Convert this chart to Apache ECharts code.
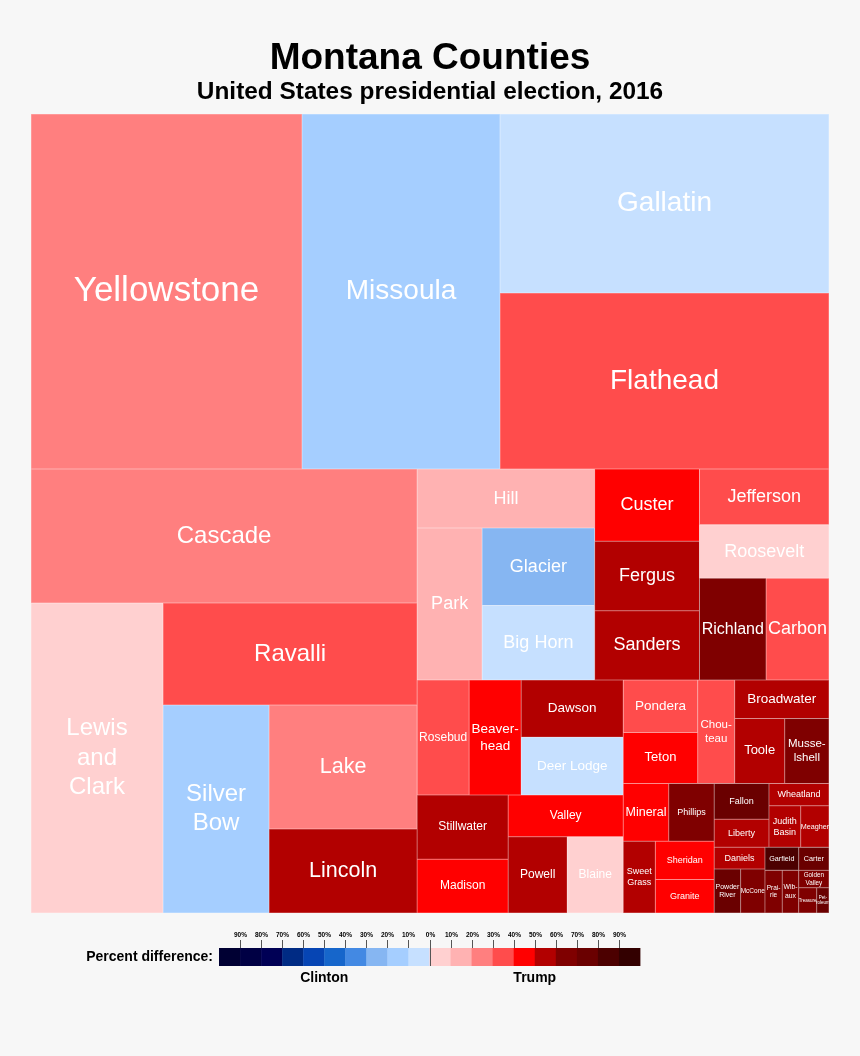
<!DOCTYPE html>
<html>
<head>
<meta charset="utf-8">
<script src="https://cdn.jsdelivr.net/npm/echarts/dist/echarts.min.js"></script>
<style>
html,body{margin:0;padding:0;background:#f7f7f7;}
#chart{width:860px;height:1056px;}
</style>
</head>
<body>
<div id="chart"></div>
<script>
// ---- Data ----
const counties = ['Yellowstone','Missoula','Gallatin','Flathead','Cascade','Lewis and Clark','Ravalli','Silver Bow','Lake','Lincoln',
  'Hill','Park','Glacier','Big Horn','Custer','Fergus','Sanders','Jefferson','Roosevelt','Richland','Carbon',
  'Rosebud','Beaverhead','Dawson','Deer Lodge','Stillwater','Madison','Valley','Powell','Blaine',
  'Pondera','Teton','Chouteau','Broadwater','Toole','Musselshell','Mineral','Phillips','Sweet Grass','Sheridan','Granite',
  'Fallon','Liberty','Wheatland','Judith Basin','Meagher','Daniels','Powder River','McCone','Garfield','Carter',
  'Prairie','Wibaux','Golden Valley','Treasure','Petroleum'];
// total votes
const votes = [75040,54826,45935,45165,40345,31918,20208,17197,14315,9697,
  8169,7706,6801,6537,5897,5684,5676,5635,5392,5291,4997,
  4664,4664,4559,4590,4564,3812,3741,3512,3333,
  3035,2959,2981,2817,2535,2246,2050,2050,1797,1753,1543,
  1536,1195,1048,1029,918,858,906,834,605,544,
  576,546,411,355,243];
// percent difference (Trump minus Clinton), estimated from colour bins
const margins = [25,-15,-5,35,22,5,38,-15,22,55,
  15,12,-25,-5,45,55,52,33,3,63,35,
  32,44,55,-6,52,45,42,52,2,
  36,45,31,57,54,65,43,64,56,41,44,
  72,53,54,57,55,56,71,66,84,76,
  62,67,64,61,73];
// colour bins 0-10%, 10-20%, ... 90%+
const clintonColors = ['#C6E0FF','#A5CEFF','#86B6F2','#4389E3','#1666CB','#0645B4','#002B84','#000055','#000044','#000033'];
const trumpColors = ['#FFD0D0','#FFB2B2','#FF7F7F','#FF4C4C','#FF0000','#B20000','#7F0000','#6A0000','#4C0000','#330000'];
const legendTicks = ['90%','80%','70%','60%','50%','40%','30%','20%','10%','0%','10%','20%','30%','40%','50%','60%','70%','80%','90%'];

// hierarchy of the binary partition seen in the picture (names only)
const groupTree = [
  [['Yellowstone','Missoula'],['Gallatin','Flathead']],
  [
    ['Cascade',['Lewis and Clark',['Ravalli',['Silver Bow',['Lake','Lincoln']]]]],
    [
      [['Hill',['Park',['Glacier','Big Horn']]],[['Custer',['Fergus','Sanders']],['Jefferson',['Roosevelt',['Richland','Carbon']]]]],
      [
        [['Rosebud',['Beaverhead',['Dawson','Deer Lodge']]],[['Stillwater','Madison'],['Valley',['Powell','Blaine']]]],
        [
          [[['Pondera','Teton'],'Chouteau'],['Broadwater',['Toole','Musselshell']]],
          [
            [['Mineral','Phillips'],['Sweet Grass',['Sheridan','Granite']]],
            [
              [['Fallon','Liberty'],['Wheatland',['Judith Basin','Meagher']]],
              [['Daniels',['Powder River','McCone']],[['Garfield','Carter'],['Prairie',['Wibaux',['Golden Valley',['Treasure','Petroleum']]]]]]
            ]
          ]
        ]
      ]
    ]
  ]
];

// ---- Label styling (kept apart from data) ----
const labelText = {'Lewis and Clark':'Lewis\nand\nClark','Silver Bow':'Silver\nBow','Beaverhead':'Beaver-\nhead',
  'Chouteau':'Chou-\nteau','Musselshell':'Musse-\nlshell','Sweet Grass':'Sweet\nGrass','Judith Basin':'Judith\nBasin',
  'Powder River':'Powder\nRiver','Prairie':'Prai-\nrie','Wibaux':'Wib-\naux','Golden Valley':'Golden\nValley','Petroleum':'Pet-\nroleum'};
const labelSize = {'Yellowstone':35,'Missoula':28,'Gallatin':28,'Flathead':28,'Cascade':24,'Lewis and Clark':24,'Ravalli':24,
  'Silver Bow':24,'Lake':21.5,'Lincoln':21.5,'Hill':18,'Park':18,'Glacier':18,'Big Horn':18,'Custer':18,'Fergus':18,'Sanders':18,
  'Jefferson':18,'Roosevelt':18,'Richland':16,'Carbon':18,'Rosebud':12,'Beaverhead':13.5,'Dawson':13.5,'Deer Lodge':13.5,
  'Stillwater':12,'Madison':12,'Valley':12,'Powell':12,'Blaine':12,'Pondera':13.5,'Teton':13,'Chouteau':11.5,'Broadwater':13.5,
  'Toole':13,'Musselshell':11.5,'Mineral':12.5,'Phillips':9,'Sweet Grass':9,'Sheridan':9,'Granite':9,'Fallon':9,'Liberty':9,
  'Wheatland':9,'Judith Basin':9,'Meagher':7.2,'Daniels':9,'Powder River':7,'McCone':6.5,'Garfield':7.2,'Carter':7.2,
  'Prairie':6.5,'Wibaux':6.8,'Golden Valley':6.3,'Treasure':4.5,'Petroleum':4.5};

const FONT = '"Liberation Sans", Arial, sans-serif';
const idx = {};
counties.forEach((c, i) => { idx[c] = i; });

function colorFor(m) {
  const b = Math.min(9, Math.floor(Math.abs(m) / 10));
  return m >= 0 ? trumpColors[b] : clintonColors[b];
}
function lighten(hex, t) {
  const n = parseInt(hex.slice(1), 16);
  const r = (n >> 16) & 255, g = (n >> 8) & 255, b = n & 255;
  const f = v => Math.round(v + (255 - v) * t);
  return 'rgb(' + f(r) + ',' + f(g) + ',' + f(b) + ')';
}
let gid = 0;
function build(node) {
  if (typeof node === 'string') {
    const i = idx[node];
    const col = colorFor(margins[i]);
    const fs = labelSize[node] || 12;
    return {
      name: node,
      value: votes[i],
      itemStyle: { color: col, borderColor: lighten(col, 0.4), borderWidth: 0.5 },
      label: { formatter: labelText[node] || node, fontSize: fs, lineHeight: fs * 1.22 }
    };
  }
  gid++;
  return { name: 'group' + gid, children: node.map(build) };
}
const treeData = groupTree.map(build);

// ---- Legend graphics ----
const LX = 219, LW = 421, LY = 948, LH = 18;
const cellW = LW / 20;
const legendColors = clintonColors.slice().reverse().concat(trumpColors);
const graphics = [];
legendColors.forEach((c, i) => {
  graphics.push({ type: 'rect', shape: { x: LX + i * cellW, y: LY, width: cellW + 0.4, height: LH }, style: { fill: c } });
});
legendTicks.forEach((t, k) => {
  const x = Math.round(LX + (k + 1) * cellW) + 0.5;
  const isZero = k === 9;
  graphics.push({ type: 'line', shape: { x1: x, y1: 940, x2: x, y2: isZero ? LY + LH : LY }, style: { stroke: '#555', lineWidth: 1 } });
  graphics.push({ type: 'text', x: x, y: 935.5, style: { text: t, font: 'bold 6.5px ' + FONT, fill: '#000',
    align: 'center', verticalAlign: 'middle', textAlign: 'center', textVerticalAlign: 'middle' } });
});
graphics.push({ type: 'text', x: 213, y: 957, style: { text: 'Percent difference:', font: 'bold 14px ' + FONT, fill: '#000',
  align: 'right', verticalAlign: 'middle', textAlign: 'right', textVerticalAlign: 'middle' } });
graphics.push({ type: 'text', x: LX + LW / 4, y: 978, style: { text: 'Clinton', font: 'bold 14px ' + FONT, fill: '#000',
  align: 'center', verticalAlign: 'middle', textAlign: 'center', textVerticalAlign: 'middle' } });
graphics.push({ type: 'text', x: LX + LW * 3 / 4, y: 978, style: { text: 'Trump', font: 'bold 14px ' + FONT, fill: '#000',
  align: 'center', verticalAlign: 'middle', textAlign: 'center', textVerticalAlign: 'middle' } });

const chart = echarts.init(document.getElementById('chart'));
chart.setOption({
  backgroundColor: '#f7f7f7',
  animation: false,
  title: {
    text: 'Montana Counties',
    subtext: 'United States presidential election, 2016',
    left: 'center', top: 35, itemGap: 3,
    textStyle: { fontFamily: FONT, fontWeight: 'bold', fontSize: 37, color: '#000' },
    subtextStyle: { fontFamily: FONT, fontWeight: 'bold', fontSize: 24.4, color: '#000' }
  },
  graphic: { elements: graphics },
  series: [{
    type: 'treemap',
    left: 31, top: 114, width: 798, height: 799,
    roam: false, nodeClick: false,
    breadcrumb: { show: false },
    sort: false,
    squareRatio: 0.0001,
    visibleMin: 0,
    animation: false,
    itemStyle: { borderWidth: 0, gapWidth: 0, borderColor: 'rgba(0,0,0,0)' },
    upperLabel: { show: false },
    label: { show: true, position: 'inside', color: '#fff', fontFamily: FONT, padding: 0,
      overflow: 'none', align: 'center', verticalAlign: 'middle' },
    emphasis: { disabled: true },
    data: treeData
  }]
});
</script>
</body>
</html>
